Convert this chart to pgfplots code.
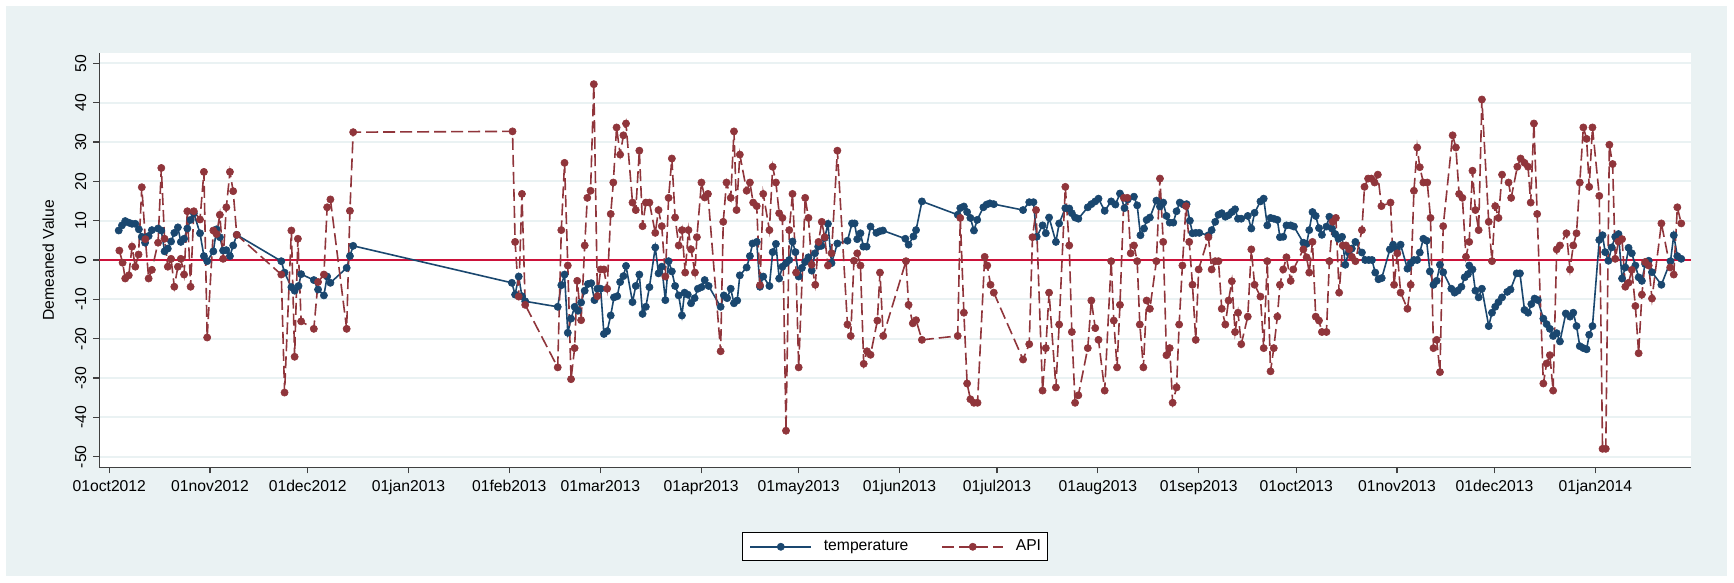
\documentclass[border=0pt]{standalone}
\usepackage{fontspec}
\setmainfont{Liberation Sans}
\usepackage{pgfplots}
\pgfplotsset{compat=1.18}
\definecolor{bgc}{RGB}{234,242,243}
\definecolor{tblue}{RGB}{26,71,111}
\definecolor{ared}{RGB}{144,53,59}
\definecolor{zred}{RGB}{205,18,58}
\begin{document}
\begin{tikzpicture}
\fill[white] (0,0) rectangle (867pt,291.5pt);
\fill[bgc] (3pt,3.5pt) rectangle (863.5pt,288.6pt);
\begin{axis}[
  at={(49.65pt,57.85pt)}, anchor=south west,
  width=796pt, height=207pt, scale only axis,
  xmin=-3.07, xmax=486.5, ymin=-52.7, ymax=52.55,
  axis background/.style={fill=white},
  axis x line*=bottom, axis y line*=left,
  axis line style={black!75, line width=0.6pt, -},
  every outer x axis line/.append style={-},
  every outer y axis line/.append style={-},
  xtick={0,31,61,92,123,151,182,212,243,273,304,335,365,396,426,457},
  xticklabels={01oct2012,01nov2012,01dec2012,01jan2013,01feb2013,01mar2013,01apr2013,01may2013,01jun2013,01jul2013,01aug2013,01sep2013,01oct2013,01nov2013,01dec2013,01jan2014},
  ytick={-50,-40,-30,-20,-10,0,10,20,30,40,50},
  tick align=outside, major tick length=3pt,
  tick style={black!75, line width=0.6pt},
  ymajorgrids, grid style={bgc, line width=1pt},
  font=\fontsize{7.85}{9}\selectfont,
  /pgf/number format/assume math mode=true,
  yticklabel style={rotate=90, anchor=south},
  every axis y label/.style={at={(axis description cs:-0.032,0.5)}, rotate=90, anchor=center},
  ylabel={Demeaned Value},
  legend columns=2,
  legend style={at={(axis description cs:0.5,-0.192)}, anchor=center, draw=black, line width=0.5pt, fill=white,
    font=\fontsize{7.85}{9}\selectfont, nodes={inner sep=0pt}, inner xsep=3.4pt, inner ysep=3.6pt,
    /tikz/every odd column/.append style={column sep=5.85pt},
    /tikz/every even column/.append style={column sep=16.5pt}},
  legend image code/.code={\draw[#1, mark repeat=2, mark phase=2] plot coordinates {(0pt,0pt) (15.25pt,0pt) (30.5pt,0pt)};},
]
\addplot[zred, line width=0.7pt, forget plot] coordinates {(-3.07,0) (486.5,0)};
\addplot[tblue, line width=0.8pt, mark=*, mark size=1.8pt, mark options={solid, line width=0.3pt}] coordinates {
(2.9,7.5) (3.9,8.8) (4.9,9.9) (6,9.5) (7,9.2) (8,9.2) (9.1,7.8) (10,5.9) (11,4.4) (12.1,6.1)
(13.1,7.6) (15,8.0) (16,7.5) (17,2.2) (18,2.9) (19,4.7) (20,6.9) (21.1,8.3) (22,4.6) (23,5.4)
(24,8.0) (25,10.2) (26,11.9) (27.9,6.8) (29.1,1.0) (30.1,-0.3) (32,2.2) (33,7.8) (34,5.8) (35,2.4)
(36,2.5) (37.1,1.0) (38.1,3.7) (39.2,6.4)
(52.9,-0.3) (53.9,-3.2) (56,-6.9) (57,-7.8) (58.2,-6.6) (59,-3.6) (62.9,-5.1) (64.2,-7.5) (66,-9.0)
(67,-4.2) (68,-5.8) (73,-2.0) (74,1.0) (75,3.6)
(123.8,-5.8) (124.8,-8.8) (125.9,-4.2) (126.9,-9.2) (127.9,-10.5) (137.9,-11.9) (139,-6.4) (140,-3.7)
(141,-18.5) (142,-14.9) (143.1,-11.9) (144.1,-12.9) (145.1,-10.8) (146.2,-7.8) (147.2,-6.1) (148.2,-5.9)
(149.2,-10.2) (150.1,-7.3) (151.1,-7.3) (152.1,-18.8) (153.1,-18.1) (154.2,-14.1) (155.2,-9.5) (156.2,-9.2)
(157.1,-5.6) (158.1,-4.1) (158.9,-1.5) (160.9,-10.7) (161.9,-6.6) (163,-3.7) (164,-13.7) (165,-11.9)
(166.1,-6.9) (167.9,3.2) (168.9,-3.4) (169.9,-1.7) (171,-10.2) (172,-0.3) (173,-2.9) (174,-6.6)
(175.1,-9.0) (176.1,-14.1) (176.9,-8.3) (177.9,-8.8) (178.9,-11.0) (180,-9.7) (181,-7.3)
(182.1,-6.9) (183.1,-5.1) (184.3,-6.6) (188,-11.9) (189,-9.0) (190,-9.7) (191.1,-7.3) (192.1,-11.0)
(193.1,-10.3) (193.9,-3.9) (196,-1.9) (197,1.0) (197.8,4.2) (199.1,4.6) (200.1,-6.8) (201.1,-4.2)
(203,-6.6) (204,2.0) (205,4.1) (206,-4.7) (207,-1.7) (208.1,-0.8) (209.1,0) (210.1,4.7) (211,2.0)
(212,-4.2) (213,-2.0) (214,-0.5) (215,0.7) (216,-2.7) (217,1.7) (218,3.4) (219,3.6) (220,5.6)
(221,9.2) (222.1,-0.8) (223.9,4.2) (227,4.9) (228.4,9.3) (229.2,9.3) (230,5.3) (231,6.8) (231.9,3.4)
(232.9,3.4) (234.1,8.5) (235.9,6.9) (236.9,7.3) (237.9,7.5) (244.8,5.4) (245.8,3.9)
(247.3,6.0) (248.1,7.6) (249.9,14.9) (260.9,11.5) (261.7,13.2) (262.8,13.6) (263.8,12.2) (264.8,10.7)
(265.9,7.5) (266.9,10.2) (268.8,13.4) (269.8,14.1) (270.8,14.4) (272,14.2) (281,12.7) (282.9,14.7)
(284.2,14.7) (285.2,5.9) (287,8.8) (288,6.8) (289,10.8) (291.1,4.6) (292.1,9.3) (294,13.2) (295.2,13.1)
(296,11.9) (297,10.8) (298,10.5) (300.9,13.4) (302,14.2) (303.2,14.9) (304.2,15.6) (306.1,12.5)
(308.1,14.9) (309.4,14.1) (310.8,16.9)
(312.2,13.2) (313.2,15.4) (315.1,16.1) (316.1,13.9) (317.1,6.3) (318.2,8.0) (319,10.2) (320,10.8)
(322,15.1) (323.1,13.6) (324.1,14.6) (325.1,11.2) (326.1,9.5) (327.2,9.5) (328.2,12.4) (329.2,14.6)
(330.3,14.1) (331.3,14.2) (332.3,10.0) (333.1,6.8) (334.1,6.9) (335.2,6.9) (338,6.3) (339,7.6)
(340.1,9.7) (341.1,11.5) (342.1,11.9) (343.2,11.0) (344.2,11.4) (345.2,12.2) (346.2,12.9) (347.1,10.5)
(348.1,10.5) (350.1,11.2) (351.2,8.0) (352.2,12.0) (354,14.9) (355,15.6) (356.1,8.8) (357.1,10.7)
(358.1,10.5) (359.2,10.2) (360,5.8) (361,5.9) (362,8.8) (363.3,8.8) (364.3,8.5) (367.2,4.4) (368.2,4.1)
(369,7.6) (370,12.2) (371,11.2) (372,8.1) (372.9,6.4) (374.3,8.5) (375.2,11.0)
(376,8.0) (377,6.6) (378,5.4) (379.1,5.9) (380.1,-1.2) (381.1,1.9) (382.1,2.9) (383.2,4.6) (385.2,1.9)
(386.2,0) (387.3,0) (388.3,0) (389.3,-3.2) (390.3,-4.9) (391.3,-4.6) (393.8,2.7) (394.8,3.9) (395.9,2.7)
(397.1,3.9) (399.2,-2.2) (400.2,-0.8) (401.2,0) (402.2,0) (403,1.9) (404.1,5.4) (405.1,4.9) (406.1,-2.9)
(407.2,-6.3) (408.2,-5.3) (409.2,-1.2) (410.2,-3.1) (412.7,-7.3) (413.7,-8.3) (414.7,-7.8) (415.8,-6.8)
(416.8,-4.4) (417.8,-3.6) (418.2,-1.4) (419.2,-2.4) (420.1,-7.8) (421.1,-9.5) (422.1,-7.3) (424.2,-16.8)
(425.2,-13.4) (426.2,-11.9) (427.2,-10.7) (428.3,-9.5) (429.9,-8.1) (430.9,-7.5) (432.8,-3.4) (433.8,-3.4)
(435.2,-12.7) (436.3,-13.4) (437.3,-11.2) (438.3,-9.8) (439.3,-10.2)
(441,-14.9) (442,-16.3) (443,-17.5) (444,-19.3) (445.1,-18.6) (446.1,-20.7) (447.9,-13.6) (449.2,-14.4)
(450.2,-13.4) (451.2,-16.8) (452.2,-21.9) (453.3,-22.4) (454.3,-22.7) (455.1,-19.0) (456.1,-16.8)
(458.2,5.1) (459.2,6.3) (460,2.0) (461,-0.2) (462,3.2) (463.1,5.9) (464.1,6.6) (465.2,-4.7) (466.2,-1.9)
(467.2,3.1) (468.2,1.7) (469.3,-1.4) (470.3,-4.4) (471.3,-5.3) (472.3,-1.0) (473.4,-0.2) (474.4,-3.1)
(477.3,-6.3) (480.1,-0.3) (481.1,6.3) (482.2,1.0) (483.4,0.3)
};
\addlegendentry{temperature}
\addplot[ared, line width=0.8pt, dash pattern=on 6pt off 2.5pt, mark=*, mark size=1.8pt, mark options={solid, line width=0.3pt}] coordinates {
(3.1,2.4) (4.1,-0.7) (4.9,-4.7) (6,-3.9) (7,3.4) (8,-1.7) (9,1.4) (10,18.5) (11.1,5.3) (12.1,-4.7)
(13.1,-2.5) (15,4.4) (16,23.4) (17,5.4) (18,-1.7) (19,0.3) (20,-6.8) (21.1,-1.7) (22,0.3) (23,-3.7)
(24,12.4) (25,-6.8) (26,12.4) (27.9,10.3) (29.1,22.4) (30.1,-19.7) (32,7.5) (33,6.6) (34,11.5) (35,0.3)
(36,13.4) (37.1,22.4) (38.1,17.5) (39.2,6.4)
(52.9,-3.7) (53.9,-33.7) (56,7.5) (57,-24.6) (58,5.4) (59,-15.6) (62.9,-17.5) (64.2,-5.6) (66,-3.7)
(67,13.4) (68,15.4) (73,-17.5) (74,12.5) (75,32.5)
(124,32.7) (124.8,4.6) (125.9,-9.3) (126.9,16.8) (127.9,-11.4) (137.9,-27.3) (139,7.6) (140,24.7)
(141,-1.4) (142,-30.3) (143.1,-22.4) (143.9,-5.3) (145.1,-15.3) (146.2,3.7) (147,15.8) (148,17.6)
(149,44.7) (150.1,-9.2) (151.1,-2.4) (152.1,-2.4) (153.1,-7.3) (154.2,11.7) (155,19.7) (156,33.7)
(157.1,26.8) (158.1,31.7) (158.9,34.7) (160.9,14.6) (161.9,12.7) (163,27.8) (164,8.6) (165,14.6)
(166.1,14.6) (167.9,6.9) (168.9,12.7) (169.9,8.6) (171,-4.2) (172,15.8) (173,25.8) (174,10.8)
(175.1,3.7) (176.1,7.6) (177.1,-3.2) (178.1,7.6) (178.9,2.7) (180.1,-3.2) (180.7,5.8)
(182.1,19.7) (183.1,15.9) (184.1,16.8) (188,-23.2) (188.8,9.7) (189.8,19.7) (191.1,15.8) (192.1,32.7)
(192.9,12.7) (193.9,26.8) (196,17.6) (197,19.7) (198,14.6) (199.1,13.7) (200.1,-6.4) (201.1,16.8)
(203,7.6) (204,23.7) (205,19.7) (206,11.9) (207,10.7) (208.1,-43.4) (209.1,7.6) (210.1,16.8)
(211.2,-3.2) (212,-27.3) (214,15.8) (215,10.7) (216,-1.2) (217.1,-6.3) (218.1,4.6) (219.1,9.7)
(220,5.8) (221,-1.4) (222.1,1.7) (223.9,27.8) (227,-16.4) (228,-19.3) (229,-0.2) (230,1.7) (231,-1.4)
(232,-26.4) (233,-23.2) (234.1,-24.1) (236.2,-15.4) (237,-3.2) (238,-19.3) (245,-0.3) (245.8,-11.4)
(247.1,-16.1) (248.1,-15.3) (249.9,-20.3) (260.9,-19.3) (261.7,10.7) (262.8,-13.4) (263.8,-31.4)
(264.8,-35.4) (265.9,-36.3) (267,-36.3) (269.2,0.8) (270,-1.4) (271,-6.3) (272,-8.3) (281,-25.3)
(282.9,-21.4) (283.9,5.8) (285,12.7) (287,-33.2) (288,-22.4) (289,-8.3) (291.1,-32.4) (292.1,-16.4)
(294,18.6) (295.2,3.7) (296,-18.3) (297,-36.3) (298,-34.4) (300.9,-22.4) (302,-10.3) (303.2,-17.3)
(304.2,-20.3) (306.1,-33.2) (308.1,-0.3) (308.9,-15.4) (309.9,-27.3) (310.8,-11.4)
(312,15.8) (313.1,15.8) (314.1,1.7) (315.1,3.7) (316.1,-0.3) (316.9,-16.4) (318,-27.3) (319,-10.3)
(320,-12.4) (322,-0.3) (323.1,20.7) (324.1,4.6) (325.1,-24.2) (326.1,-22.4) (327,-36.3) (328.2,-32.4)
(329,-16.4) (330,-1.4) (331.1,13.7) (332.1,4.6) (333.1,-6.3) (334.1,-20.3) (335,-2.4) (338,5.8)
(339,-2.4) (340.1,-0.3) (341.1,-0.3) (342.1,-12.4) (343.2,-16.4) (344.2,-10.3) (345.2,-5.4)
(346.2,-18.3) (347.1,-13.4) (348.1,-21.4) (350.1,-14.4) (351.2,2.7) (352.2,-6.3) (354,-9.3)
(355,-22.4) (356.1,-0.3) (357.1,-28.3) (358.1,-22.4) (359.2,-14.4) (360,-6.3) (361,-2.4) (362,0.7)
(363.3,-5.3) (364.1,-2.4) (367.2,2.7) (368.2,0.7) (369,-3.2) (370,4.6) (371,-14.4) (372,-15.4)
(372.9,-18.3) (374.3,-18.3) (375.2,-0.3)
(376.2,9.7) (377.2,10.7) (378.2,-8.3) (379.3,3.7) (380.3,3.7) (381.3,2.7) (382.1,0.8) (383.2,-0.3)
(385.2,7.6) (386,18.6) (387.1,20.7) (388.1,20.7) (389.1,19.7) (390.1,21.7) (391.2,13.7) (394,14.6)
(395.1,-6.3) (396.1,1.7) (397.1,-8.3) (399.2,-12.4) (400.2,-6.3) (401.2,17.6) (402.2,28.6) (403,23.6)
(404.1,19.7) (405.3,19.7) (406.3,10.7) (407.2,-22.4) (408.2,-20.3) (409.2,-28.5) (410.2,8.6)
(413.1,31.7) (414.1,28.6) (415.1,16.8) (416.1,15.8) (417.2,0.8) (418.2,4.6) (419.2,22.7) (420.1,12.7)
(421.1,7.6) (422.1,40.8) (424.2,9.7) (425.2,-0.3) (426.2,13.7) (427.2,10.7) (428.3,21.7) (430.3,19.7)
(431.1,15.8) (433,23.7) (434,25.8) (435.2,24.7) (436.3,23.7) (437.1,14.6) (438.1,34.7) (439.1,11.7)
(441,-31.4) (442,-26.3) (443,-24.2) (444,-33.2) (445.1,2.7) (446.1,3.7) (448.1,6.8) (449.2,-2.4)
(450.2,3.7) (451.2,6.8) (452.2,19.7) (453.3,33.7) (454.3,30.8) (455.1,18.6) (456.1,33.7) (458.2,16.3)
(459.2,-48.0) (460.2,-48.0) (461.3,29.3) (462.3,24.4) (463.1,0.3) (464.1,4.7) (465.2,5.3) (466.2,-6.8)
(467.2,-5.8) (468.2,-2.5) (469.3,-11.7) (470.3,-23.7) (471.3,-8.8) (472.3,-0.5) (473.4,-1.4)
(474.4,-9.8) (477.3,9.3) (480,-1.9) (481.1,-3.7) (482.2,13.4) (483.4,9.3)
};
\addlegendentry{API}
\end{axis}
\end{tikzpicture}
\end{document}
